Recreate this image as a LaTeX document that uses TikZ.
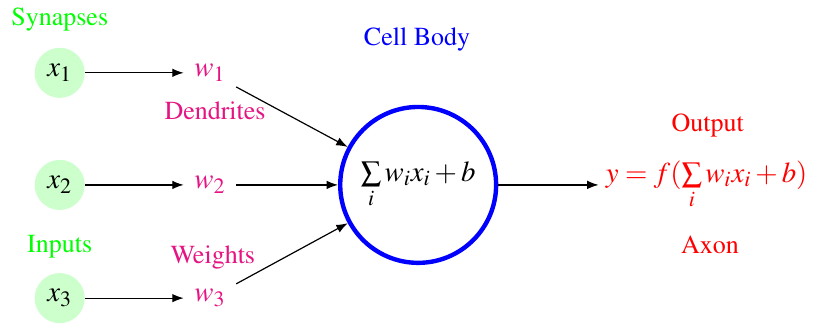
\documentclass[tikz,border=0pt]{standalone}
\usepackage[T1]{fontenc}
\usepackage{mathptmx}
\usetikzlibrary{arrows.meta}

\definecolor{weightpink}{RGB}{230,20,130}

\begin{document}
\begin{tikzpicture}[
    >=Latex, semithick,
    input/.style={circle, fill=green!20, minimum size=0.88cm, inner sep=0pt, font=\Large},
    weight/.style={text=weightpink, font=\Large, outer sep=2pt},
    note/.style={font=\fontsize{13}{15}\selectfont},
    cell/.style={draw=blue, circle, line width=2.2pt, minimum size=2.74cm, inner sep=0pt, font=\Large}
]

\useasboundingbox (0, 0) rectangle (14.29, -5.68);

% Inputs
\node[note, text=green] (Synapses) at (1.05, -0.35) {Synapses};
\node[input] (X1) at (1.05, -1.28) {$x_1$};
\node[input] (X2) at (1.05, -3.25) {$x_2$};
\node[note, text=green] (Inputs) at (1.05, -4.34) {Inputs};
\node[input] (X3) at (1.05, -5.24) {$x_3$};

% Weights
\node[weight] (W1) at (3.69, -1.28) {$w_1$};
\node[weight] (W2) at (3.69, -3.25) {$w_2$};
\node[weight] (W3) at (3.69, -5.24) {$w_3$};
\node[note, text=weightpink] (Dendrites) at (3.78, -1.95) {Dendrites};
\node[note, text=weightpink] (Weights) at (3.74, -4.52) {Weights};

% Cell body
\node[cell] (Cell) at (7.35, -3.25) {$\sum\limits_i w_i x_i + b$};
\node[note, text=blue] (CellLabel) at (7.33, -0.70) {Cell Body};

% Output
\node[text=red, font=\Large] (Out) at (12.42, -3.25) {$y = f(\sum\limits_i w_i x_i + b)$};
\node[note, text=red] (OutLabel) at (12.44, -2.21) {Output};
\node[note, text=red] (Axon) at (12.48, -4.31) {Axon};

\draw[->] (X1) -- (W1);
\draw[->] (X2) -- (W2);
\draw[->] (X3) -- (W3);

\draw[->] (W1) -- (Cell);
\draw[->] (W2) -- (Cell);
\draw[->] (W3) -- (Cell);

\draw[->] (Cell) -- (Out);

\end{tikzpicture}
\end{document}
